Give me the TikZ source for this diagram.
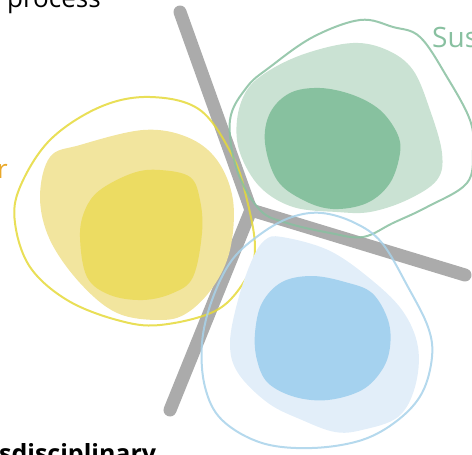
\documentclass[tikz,border=0pt]{standalone}
\usepackage{fontspec}
\setmainfont{Open Sans}
\definecolor{bar}{HTML}{ABABAB}
\definecolor{yline}{HTML}{E5D93A}
\definecolor{ylight}{HTML}{F2E59E}
\definecolor{ydark}{HTML}{ECDC62}
\definecolor{gline}{HTML}{88C0A0}
\definecolor{glight}{HTML}{CAE2D3}
\definecolor{gdark}{HTML}{87C19F}
\definecolor{bline}{HTML}{A8D2EA}
\definecolor{blight}{HTML}{E2EEF9}
\definecolor{bdark}{HTML}{A5D2EF}
\definecolor{otext}{HTML}{E9A82A}

\begin{document}
\begin{tikzpicture}[x=1pt,y=-1pt,
  blob/.style={smooth cycle,tension=0.6},
  rim/.style={line width=2pt,opacity=0.85},
  word/.style={inner sep=0pt,font=\fontsize{26}{30}\selectfont}]
  \useasboundingbox (0,0) rectangle (472,455);
  % the three bars
  \coordinate (hub) at (251,210);
  \coordinate (top) at (180,12);
  \coordinate (low) at (170,410);
  \coordinate (east) at (465,275);
  \draw[bar,line width=13pt,line cap=round,line join=miter] (top) -- (hub) -- (low);
  \draw[bar,line width=13pt,line cap=round] (hub) -- (east);
  % yellow
  \fill[ylight] plot[blob] coordinates {(80,145) (143,130) (187,137) (217,160) (233,200) (230,250) (213,287) (187,313) (160,320) (117,313) (80,283) (50,240) (40,197) (50,157)};
  \fill[ydark] plot[blob] coordinates {(100,190) (133,173) (160,170) (190,177) (200,200) (202,233) (193,277) (173,293) (143,300) (110,295) (87,277) (80,237) (85,210)};
  \draw[yline,rim] plot[blob] coordinates {(150,97) (200,110) (233,157) (247,200) (255,247) (247,277) (217,310) (160,325) (117,320) (67,300) (30,267) (15,223) (20,187) (50,140) (100,107)};
  % green
  \fill[glight] plot[blob] coordinates {(353,43) (387,50) (413,70) (430,110) (442,153) (437,180) (407,200) (370,212) (337,212) (293,207) (260,187) (240,153) (237,120) (247,90) (270,70) (307,53)};
  \fill[gdark] plot[blob] coordinates {(320,88) (353,95) (380,110) (397,133) (400,153) (390,183) (367,203) (333,209) (303,200) (277,180) (265,143) (270,113) (290,93)};
  \draw[gline,rim] plot[blob] coordinates {(360,20) (393,27) (420,37) (447,77) (470,120) (473,150) (467,183) (427,207) (393,223) (363,237) (330,233) (287,223) (260,210) (237,170) (230,120) (247,87) (270,67) (313,37)};
  % blue
  \fill[blight] plot[blob] coordinates {(282,237) (328,250) (368,277) (402,310) (418,347) (415,387) (398,417) (362,430) (335,432) (302,420) (268,403) (238,373) (230,343) (238,300) (252,260) (265,240)};
  \fill[bdark] plot[blob] coordinates {(312,276) (345,282) (372,293) (388,320) (390,347) (382,370) (362,390) (328,400) (295,397) (268,383) (257,360) (255,333) (262,303) (282,282)};
  \draw[bline,rim] plot[blob] coordinates {(322,213) (355,223) (382,243) (408,287) (428,327) (432,357) (422,393) (398,420) (362,440) (312,448) (262,443) (222,420) (205,387) (202,343) (212,300) (232,260) (262,233) (292,217)};
  % labels
  \node[word,anchor=base west] (proc) at (7,8) {process};
  \node[word,anchor=base west,text=gline,font=\fontsize{28}{32}\selectfont] (sus) at (432,47) {Sus};
  \node[word,anchor=base west,text=otext] (res) at (-3,178) {r};
  \node[word,anchor=base west,font=\fontsize{25}{29}\bfseries] (trans) at (-1,462) {sdisciplinary};
\end{tikzpicture}
\end{document}
